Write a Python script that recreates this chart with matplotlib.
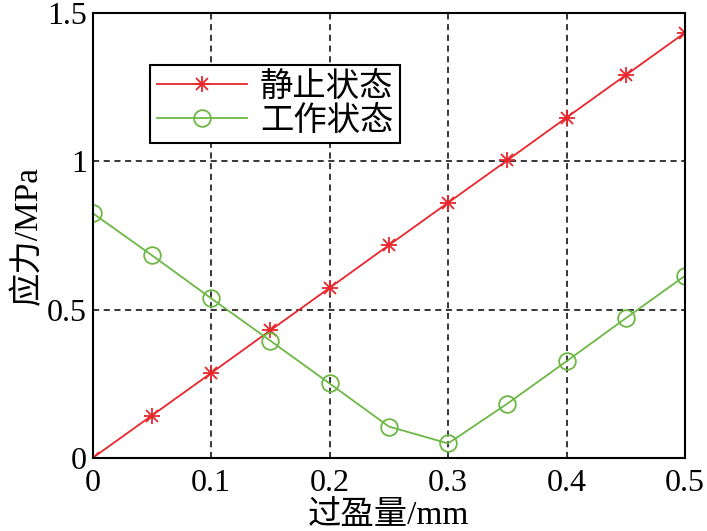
import numpy as np
import matplotlib.pyplot as plt
from matplotlib.legend_handler import HandlerTuple

plt.rcParams['font.family'] = ['Liberation Serif', 'Noto Sans CJK SC']
plt.rcParams['axes.unicode_minus'] = False

# data
interference = [0, 0.05, 0.1, 0.15, 0.2, 0.25, 0.3, 0.35, 0.4, 0.45, 0.5]
static_stress = [0, 0.143, 0.286, 0.43, 0.573, 0.717, 0.86, 1.003, 1.147, 1.29, 1.433]
working_stress = [0.825, 0.683, 0.538, 0.395, 0.251, 0.106, 0.049, 0.183, 0.326, 0.471, 0.614]

xticks = [0, 0.1, 0.2, 0.3, 0.4, 0.5]
xticklabels = ["0", "0.1", "0.2", "0.3", "0.4", "0.5"]
yticks = [0, 0.5, 1, 1.5]
yticklabels = ["0", "0.5", "1", "1.5"]

red = "#E8262C"
green = "#6DB844"

fig = plt.figure(figsize=(7.07, 5.31), dpi=100)
ax = fig.add_axes([0.131, 0.1375, 0.838, 0.8385])

l_red, = ax.plot(interference, static_stress, color=red, lw=1.3,
                 marker="+", ms=11, mew=1.3)
l_redx, = ax.plot(interference, static_stress, color=red, lw=0,
                  marker="x", ms=8, mew=1.3)
l_green, = ax.plot(interference, working_stress, color=green, lw=1.3,
                   marker="o", ms=12, mfc="none", mew=1.3)

ax.set_xlim(0, 0.5)
ax.set_ylim(0, 1.5)
ax.set_xticks(xticks)
ax.set_xticklabels(xticklabels)
ax.set_yticks(yticks)
ax.set_yticklabels(yticklabels)
ax.tick_params(direction="in", length=0, labelsize=23)
ax.tick_params(axis="x", pad=8)
ax.tick_params(axis="y", pad=4)
ax.grid(True, color="black", ls=(0, (4, 3)), lw=1.1)
for s in ax.spines.values():
    s.set_linewidth(1.5)

ax.set_xlabel("过盈量/mm", fontsize=24, labelpad=2)
ax.set_ylabel("应力/MPa", fontsize=24, labelpad=2)

leg = ax.legend([(l_red, l_redx), l_green], ["静止状态", "工作状态"],
                handler_map={tuple: HandlerTuple(ndivide=1, pad=0)},
                loc="upper left", bbox_to_anchor=(0.097, 0.883),
                fontsize=24, fancybox=False, framealpha=1, edgecolor="black",
                borderpad=0.2, labelspacing=0.1, handlelength=2.7,
                handletextpad=0.4, borderaxespad=0)
leg.get_frame().set_linewidth(1.5)

fig.savefig("out.png", dpi=100)
